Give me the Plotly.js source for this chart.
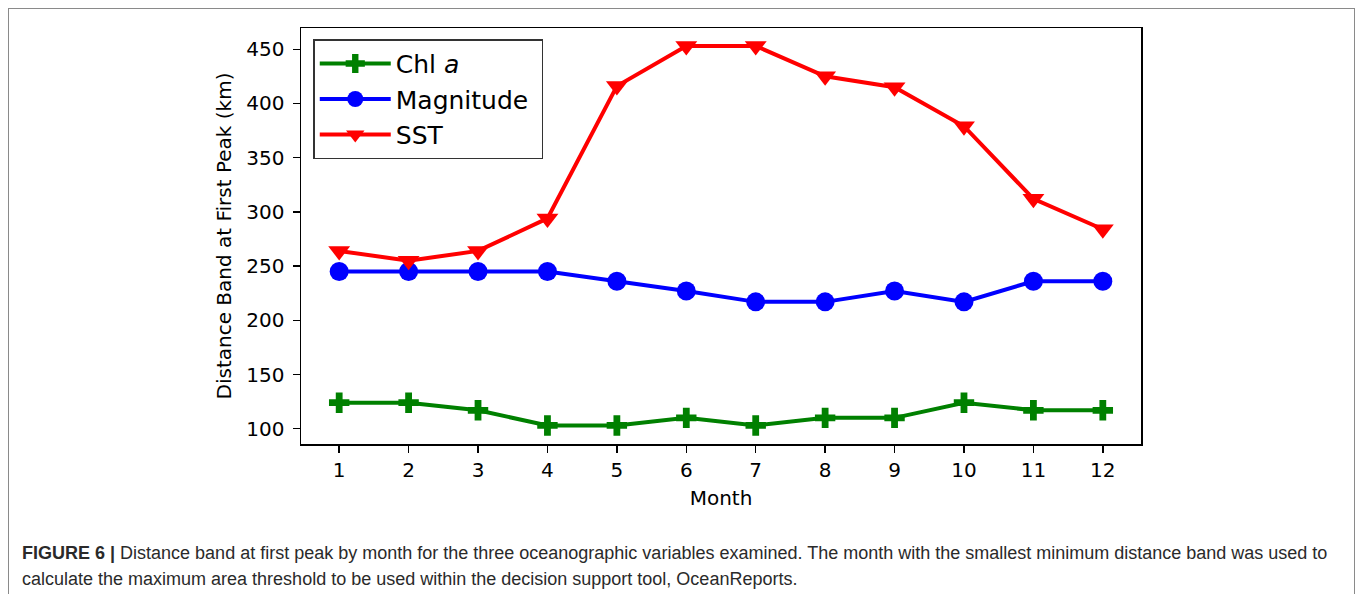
<!DOCTYPE html>
<html>
<head>
<meta charset="utf-8">
<script src="https://cdn.plot.ly/plotly-3.0.1.min.js"></script>
<style>
  html, body { margin: 0; padding: 0; background: #fff; overflow: hidden; }
  #wrap { position: relative; width: 1358px; height: 594px; }
  #chart { position: absolute; left: 0; top: 0; width: 1358px; height: 594px; }
  #frame { position: absolute; left: 8px; top: 8px; width: 1345px; height: 600px; border: 1px solid #8a8a8a; pointer-events: none; }
</style>
</head>
<body>
<div id="wrap">
  <div id="chart"></div>
  <div id="frame"></div>
</div>
<script>
const months = [1, 2, 3, 4, 5, 6, 7, 8, 9, 10, 11, 12];
const chlA = [124, 124, 117, 103, 103, 110, 103, 110, 110, 124, 117, 117];
const magnitude = [245, 245, 245, 245, 236, 227, 217, 217, 227, 217, 236, 236];
const sst = [264, 255, 264, 294, 416, 453, 453, 425, 415, 379, 312, 284];
const yTicks = [100, 150, 200, 250, 300, 350, 400, 450];
const seriesNames = ['Chl <i>a</i>', 'Magnitude\u00a0', 'SST'];
const captionLine1 = '<b>FIGURE 6 |</b> Distance band at first peak by month for the three oceanographic variables examined. The month with the smallest minimum distance band was used to';
const captionLine2 = 'calculate the maximum area threshold to be used within the decision support tool, OceanReports.';

const font = 'DejaVu Sans, sans-serif';
const capFont = 'Liberation Sans, Arial, sans-serif';

const traces = [
  { x: months, y: chlA, name: seriesNames[0], mode: 'lines+markers', type: 'scatter',
    line: { color: '#008000', width: 4 }, marker: { symbol: 'cross', size: 17, color: '#008000' } },
  { x: months, y: magnitude, name: seriesNames[1], mode: 'lines+markers', type: 'scatter',
    line: { color: '#0000ff', width: 4 }, marker: { symbol: 'circle', size: 19, color: '#0000ff' } },
  { x: months, y: sst, name: seriesNames[2], mode: 'lines+markers', type: 'scatter',
    line: { color: '#ff0000', width: 4 }, marker: { symbol: 'triangle-down', size: 19, color: '#ff0000' } }
];

const layout = {
  width: 1358, height: 594,
  margin: { l: 301, r: 217, t: 28, b: 150 },
  paper_bgcolor: '#ffffff', plot_bgcolor: '#ffffff',
  font: { family: font, color: '#000', size: 20 },
  showlegend: true,
  legend: {
    x: 0.0146, y: 0.973, xanchor: 'left', yanchor: 'top',
    bordercolor: '#333', borderwidth: 1.5, bgcolor: 'rgba(255,255,255,0.9)',
    font: { family: font, size: 25, color: '#000' },
    itemwidth: 71
  },
  xaxis: {
    range: [0.45, 12.55], tickmode: 'array', tickvals: months, ticktext: months.map(String),
    showgrid: false, zeroline: false, showline: true, linecolor: '#000', linewidth: 1.5, mirror: true,
    ticks: 'outside', ticklen: 7, tickwidth: 1.5, tickcolor: '#000',
    tickfont: { family: font, size: 20, color: '#000' },
    title: { text: 'Month', font: { family: font, size: 20, color: '#000' }, standoff: 10 }
  },
  yaxis: {
    range: [85.9, 469.6], tickmode: 'array', tickvals: yTicks, ticktext: yTicks.map(String),
    showgrid: false, zeroline: false, showline: true, linecolor: '#000', linewidth: 1.5, mirror: true,
    ticks: 'outside', ticklen: 7, tickwidth: 1.5, tickcolor: '#000', ticklabelstandoff: 4,
    tickfont: { family: font, size: 20, color: '#000' },
    title: { text: 'Distance Band at First Peak (km)', font: { family: font, size: 20, color: '#000' }, standoff: 9 }
  },
  annotations: [
    { text: captionLine1, xref: 'paper', yref: 'paper', x: -0.3345, y: -0.262, xanchor: 'left', yanchor: 'middle',
      showarrow: false, align: 'left', font: { family: capFont, size: 18, color: '#2a2a2a' } },
    { text: captionLine2, xref: 'paper', yref: 'paper', x: -0.3345, y: -0.3245, xanchor: 'left', yanchor: 'middle',
      showarrow: false, align: 'left', font: { family: capFont, size: 18, color: '#2a2a2a' } }
  ]
};

Plotly.newPlot('chart', traces, layout, { displayModeBar: false, staticPlot: true });
</script>
</body>
</html>
